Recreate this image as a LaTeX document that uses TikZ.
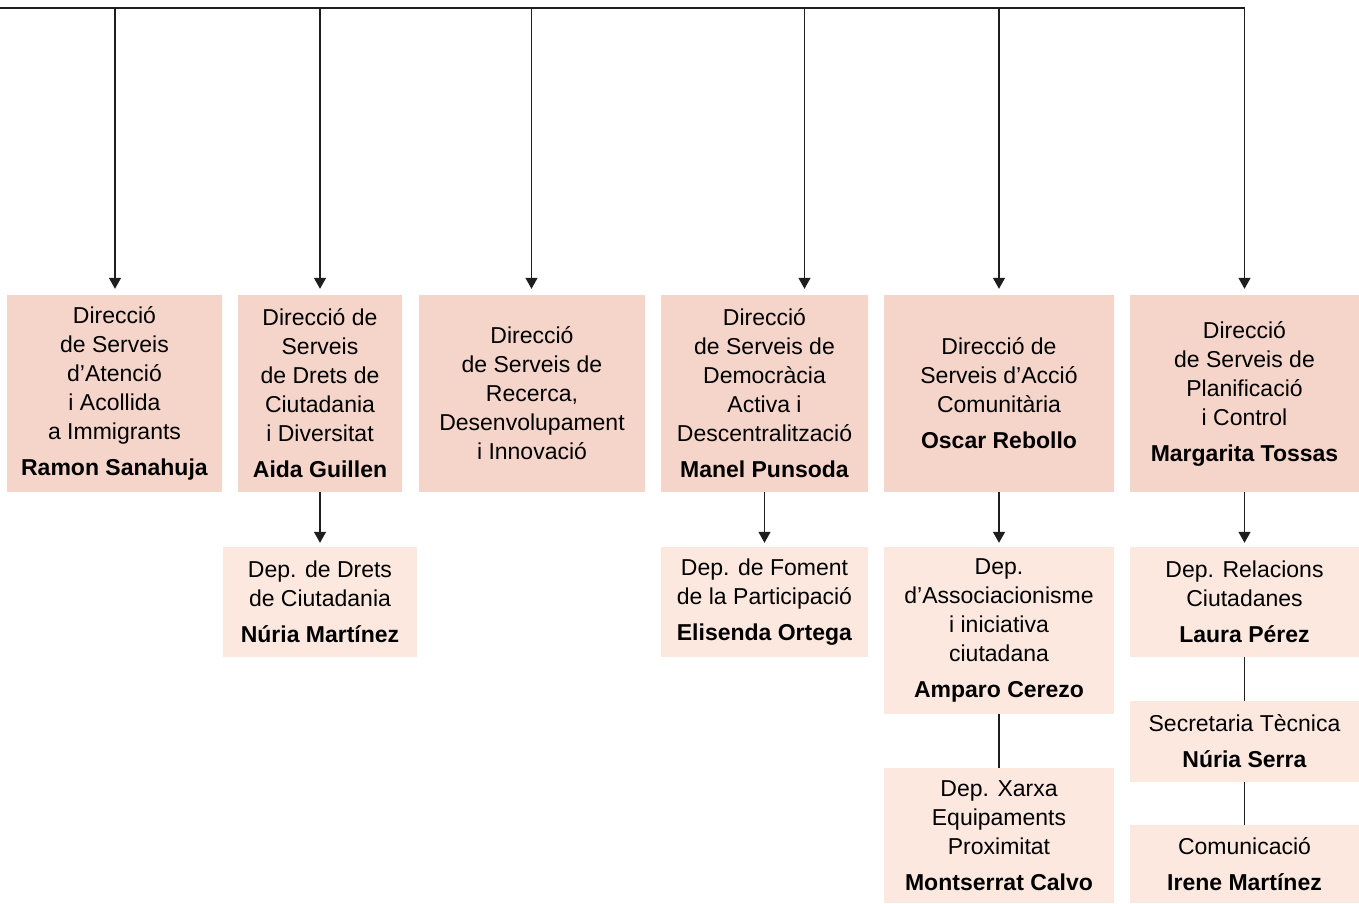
\documentclass[tikz,border=0pt]{standalone}
\usepackage{fontspec}
\setmainfont{Liberation Sans}
\usetikzlibrary{arrows.meta}
\definecolor{boxdark}{RGB}{245,213,202}
\definecolor{boxlight}{RGB}{252,232,223}
\definecolor{linecol}{RGB}{30,30,30}
\tikzset{
  topbox/.style={fill=boxdark, draw=none, inner sep=0pt, align=center, font=\fontsize{23}{29}\selectfont, minimum height=197pt},
  subbox/.style={fill=boxlight, draw=none, inner sep=0pt, align=center, font=\fontsize{23}{29}\selectfont},
  conn/.style={draw=linecol, line width=1.3pt},
  arr/.style={conn, -{Triangle[width=12pt,length=11pt]}, shorten >=6pt},
  arrs/.style={conn, -{Triangle[width=12pt,length=11pt]}, shorten >=4pt},
}
\newcommand{\nm}[1]{\\[7pt]\textbf{#1}}
\begin{document}
\begin{tikzpicture}[x=1pt,y=-1pt]
\useasboundingbox (0,0) rectangle (1359,903);
% top level
\node[topbox, minimum width=215pt] (b1) at (114.5,393.5) {Direcció\\de Serveis\\d’Atenció\\i Acollida\\a Immigrants\nm{Ramon Sanahuja}};
\node[topbox, minimum width=164pt] (b2) at (320,393.5) {Direcció de\\Serveis\\de Drets de\\Ciutadania\\i Diversitat\nm{Aida Guillen}};
\node[topbox, minimum width=226pt] (b3) at (532,393.5) {Direcció\\de Serveis de\\Recerca,\\Desenvolupament\\i Innovació};
\node[topbox, minimum width=207pt] (b4) at (764.5,393.5) {Direcció\\de Serveis de\\Democràcia\\Activa i\\Descentralització\nm{Manel Punsoda}};
\node[topbox, minimum width=230pt] (b5) at (999,393.5) {Direcció de\\Serveis d’Acció\\Comunitària\nm{Oscar Rebollo}};
\node[topbox, minimum width=229pt] (b6) at (1244.5,393.5) {Direcció\\de Serveis de\\Planificació\\i Control\nm{Margarita Tossas}};
% second level
\node[subbox, minimum width=194pt, minimum height=110pt] (d2) at (320,602) {Dep. de Drets\\de Ciutadania\nm{Núria Martínez}};
\node[subbox, minimum width=207pt, minimum height=110pt] (d4) at (764.5,602) {Dep. de Foment\\de la Participació\nm{Elisenda Ortega}};
\node[subbox, minimum width=230pt, minimum height=167pt] (d5a) at (999,630.5) {Dep.\\d’Associacionisme\\i iniciativa\\ciutadana\nm{Amparo Cerezo}};
\node[subbox, minimum width=230pt, minimum height=135pt] (d5b) at (999,835.5) {Dep. Xarxa\\Equipaments\\Proximitat\nm{Montserrat Calvo}};
\node[subbox, minimum width=229pt, minimum height=110pt] (d6a) at (1244.5,602) {Dep. Relacions\\Ciutadanes\nm{Laura Pérez}};
\node[subbox, minimum width=229pt, minimum height=81pt] (d6b) at (1244.5,741.5) {Secretaria Tècnica\nm{Núria Serra}};
\node[subbox, minimum width=229pt, minimum height=78pt] (d6c) at (1244.5,864) {Comunicació\nm{Irene Martínez}};
% bus
\coordinate (t0) at (0,8);
\coordinate (t1) at (115,8);
\coordinate (t2) at (320,8);
\coordinate (t3) at (531.5,8);
\coordinate (t4) at (804.5,8);
\coordinate (t5) at (999,8);
\draw[arr] (t0) -| (b6.north);
\draw[arr] (t1) -- (t1 |- b1.north);
\draw[arr] (t2) -- (t2 |- b2.north);
\draw[arr] (t3) -- (t3 |- b3.north);
\draw[arr] (t4) -- (t4 |- b4.north);
\draw[arr] (t5) -- (t5 |- b5.north);
% lower connectors
\draw[arrs] (b2.south) -- (d2.north);
\draw[arrs] (b4.south) -- (d4.north);
\draw[arrs] (b5.south) -- (d5a.north);
\draw[arrs] (b6.south) -- (d6a.north);
\draw[conn] (d5a.south) -- (d5b.north);
\draw[conn] (d6a.south) -- (d6b.north);
\draw[conn] (d6b.south) -- (d6c.north);
\end{tikzpicture}
\end{document}
